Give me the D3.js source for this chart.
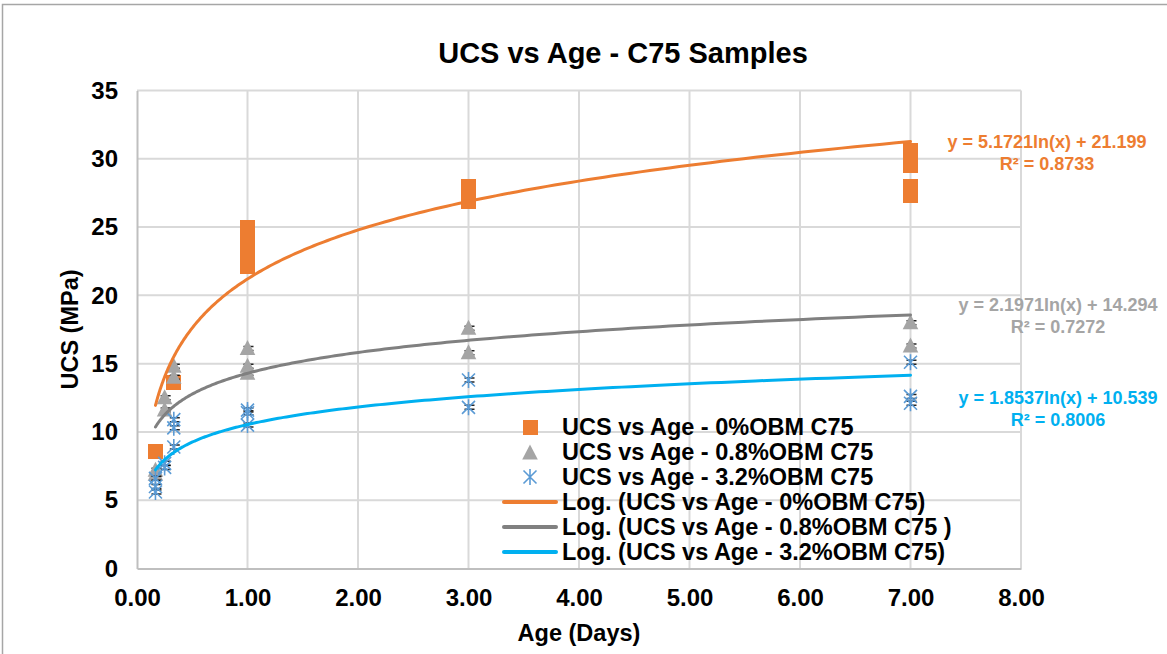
<!DOCTYPE html>
<html>
<head>
<meta charset="utf-8">
<script src="https://cdn.jsdelivr.net/npm/d3@7/dist/d3.min.js"></script>
<style>
  html, body { margin: 0; padding: 0; background: #fff; }
  svg { display: block; font-family: "Liberation Sans", Arial, sans-serif; }
</style>
</head>
<body>
<svg id="chart" width="1167" height="654"></svg>
<script>
// Curing age in days and measured UCS (MPa) for each mix
const obm0Age  = [0.167, 0.333, 1, 1, 1, 1, 3, 3, 7, 7, 7, 7];
const obm0Ucs  = [8.6, 13.6, 25.0, 24.0, 23.0, 22.1, 28.0, 26.9, 30.6, 29.5, 28.0, 27.3];

const obm08Age = [0.167, 0.167, 0.25, 0.25, 0.333, 0.333, 1, 1, 1, 3, 3, 7, 7];
const obm08Ucs = [7.2, 6.9, 12.5, 11.6, 14.8, 14.0, 16.1, 14.8, 14.3, 17.6, 15.8, 18.0, 16.3];

const obm32Age = [0.167, 0.167, 0.167, 0.25, 0.25, 0.333, 0.333, 0.333, 1, 1, 1, 3, 3, 7, 7, 7];
const obm32Ucs = [6.6, 6.0, 5.6, 7.7, 7.4, 10.9, 10.3, 8.9, 11.6, 11.4, 10.5, 13.8, 11.8, 15.1, 12.6, 12.1];

// Logarithmic trendline coefficients: y = slope * ln(x) + intercept
const fitSlope     = [5.1721, 2.1971, 1.8537];
const fitIntercept = [21.199, 14.294, 10.539];
const fitR2        = ["0.8733", "0.7272", "0.8006"];

const seriesNames = ["UCS vs Age - 0%OBM C75", "UCS vs Age - 0.8%OBM C75", "UCS vs Age - 3.2%OBM C75"];
const trendNames  = ["Log. (UCS vs Age - 0%OBM C75)", "Log. (UCS vs Age - 0.8%OBM C75 )", "Log. (UCS vs Age - 3.2%OBM C75)"];

const xTicks = [0, 1, 2, 3, 4, 5, 6, 7, 8];
const yTicks = [0, 5, 10, 15, 20, 25, 30, 35];

const markerColors = ["#ED7D31", "#A5A5A5", "#5B9BD5"];
const lineColors   = ["#ED7D31", "#808080", "#00B0F0"];
const labelColors  = ["#ED7D31", "#A5A5A5", "#00B0F0"];

const svg = d3.select("#chart");
const W = 1167, H = 654;
const plot = { left: 137, right: 1021, top: 90.5, bottom: 568.5 };

const x = d3.scaleLinear().domain([0, 8]).range([plot.left, plot.right]);
const y = d3.scaleLinear().domain([0, 35]).range([plot.bottom, plot.top]);

// chart frame
svg.append("rect")
  .attr("x", 2.5).attr("y", 4.5)
  .attr("width", W + 10).attr("height", H + 10)
  .attr("fill", "#fff").attr("stroke", "#A6A6A6").attr("stroke-width", 1.5);

// title
svg.append("text")
  .attr("x", 623).attr("y", 63)
  .attr("text-anchor", "middle")
  .attr("font-size", 29).attr("font-weight", "bold")
  .attr("fill", "#000")
  .text("UCS vs Age - C75 Samples");

// gridlines
const grid = svg.append("g");
grid.selectAll("line.v").data(xTicks.slice(1)).join("line")
  .attr("x1", d => x(d)).attr("x2", d => x(d))
  .attr("y1", plot.top).attr("y2", plot.bottom)
  .attr("stroke", "#D9D9D9").attr("stroke-width", 2);
grid.selectAll("line.h").data(yTicks.slice(1)).join("line")
  .attr("x1", plot.left).attr("x2", plot.right)
  .attr("y1", d => y(d)).attr("y2", d => y(d))
  .attr("stroke", "#D9D9D9").attr("stroke-width", 2);

// axes
const xAxis = svg.append("g")
  .attr("transform", `translate(0,${plot.bottom})`)
  .call(d3.axisBottom(x).tickValues(xTicks).tickFormat(d3.format(".2f")).tickSize(0).tickPadding(20));
xAxis.select(".domain").attr("stroke", "#BFBFBF").attr("stroke-width", 2);
xAxis.selectAll("text").attr("font-size", 24).attr("font-weight", "bold").attr("fill", "#000")
  .attr("font-family", "Liberation Sans, Arial, sans-serif");

const yAxis = svg.append("g")
  .attr("transform", `translate(${plot.left},0)`)
  .call(d3.axisLeft(y).tickValues(yTicks).tickFormat(d3.format("d")).tickSize(0).tickPadding(19));
yAxis.select(".domain").attr("stroke", "#BFBFBF").attr("stroke-width", 2);
yAxis.selectAll("text").attr("font-size", 24).attr("font-weight", "bold").attr("fill", "#000")
  .attr("font-family", "Liberation Sans, Arial, sans-serif");

// axis titles
svg.append("text")
  .attr("x", 579).attr("y", 641)
  .attr("text-anchor", "middle")
  .attr("font-size", 23.5).attr("font-weight", "bold")
  .text("Age (Days)");
svg.append("text")
  .attr("transform", `translate(78,${(plot.top + plot.bottom) / 2}) rotate(-90)`)
  .attr("text-anchor", "middle")
  .attr("font-size", 23.5).attr("font-weight", "bold")
  .text("UCS (MPa)");

// marker shapes
const squarePath = d3.symbol().type(d3.symbolSquare).size(225)();
const trianglePath = "M0,-8.5L7.8,6.5L-7.8,6.5Z";
const starPath = "M0,-8V8M-6.5,-6.5L6.5,6.5M-6.5,6.5L6.5,-6.5";

function drawSquare(g, cx, cy) {
  g.append("path").attr("d", squarePath)
    .attr("transform", `translate(${cx},${cy})`)
    .attr("shape-rendering", "crispEdges")
    .attr("fill", markerColors[0]);
}
function drawDashes(g, cx, cy) {
  g.append("path")
    .attr("d", `M${cx - 4},${cy - 2}h10M${cx - 4},${cy + 2}h10`)
    .attr("stroke", "#000").attr("stroke-width", 1.5).attr("opacity", 0.85);
}
function drawTriangle(g, cx, cy) {
  g.append("path").attr("d", trianglePath)
    .attr("transform", `translate(${cx},${cy})`)
    .attr("fill", markerColors[1]);
}
function drawStar(g, cx, cy) {
  g.append("path").attr("d", starPath)
    .attr("transform", `translate(${cx},${cy})`)
    .attr("fill", "none").attr("stroke", markerColors[2]).attr("stroke-width", 1.6);
}

// data points
const pts = svg.append("g");
obm0Age.forEach((a, i) => drawSquare(pts, x(a), y(obm0Ucs[i])));
obm08Age.forEach((a, i) => { drawDashes(pts, x(a), y(obm08Ucs[i])); });
obm08Age.forEach((a, i) => drawTriangle(pts, x(a), y(obm08Ucs[i])));
obm32Age.forEach((a, i) => { drawDashes(pts, x(a), y(obm32Ucs[i])); });
obm32Age.forEach((a, i) => drawStar(pts, x(a), y(obm32Ucs[i])));

// logarithmic trendlines across each series' age range
const ageSets = [obm0Age, obm08Age, obm32Age];
const line = d3.line().x(d => x(d[0])).y(d => y(d[1])).curve(d3.curveLinear);
ageSets.forEach((ages, k) => {
  const [lo, hi] = d3.extent(ages);
  const steps = 200;
  const pts2 = d3.range(steps + 1).map(i => {
    const a = lo * Math.pow(hi / lo, i / steps);
    return [a, fitSlope[k] * Math.log(a) + fitIntercept[k]];
  });
  svg.append("path").datum(pts2)
    .attr("d", line)
    .attr("fill", "none")
    .attr("stroke", lineColors[k])
    .attr("stroke-width", 3)
    .attr("stroke-linecap", "round");
});

// trendline equations
const eqPos = [[1047, 148], [1058, 311], [1058, 404]];
fitSlope.forEach((s, k) => {
  const t = svg.append("text")
    .attr("text-anchor", "middle")
    .attr("font-size", 18).attr("font-weight", "bold")
    .attr("fill", labelColors[k]);
  t.append("tspan").attr("x", eqPos[k][0]).attr("y", eqPos[k][1])
    .text(`y = ${s}ln(x) + ${fitIntercept[k]}`);
  t.append("tspan").attr("x", eqPos[k][0]).attr("y", eqPos[k][1] + 22)
    .text(`R² = ${fitR2[k]}`);
});

// legend
const legend = svg.append("g");
const rowY = d3.range(6).map(i => 427 + i * 25);
drawSquare(legend, 530, rowY[0]);
drawTriangle(legend, 530, rowY[1] + 1);
drawStar(legend, 530, rowY[2]);
[0, 1, 2].forEach(k => {
  legend.append("line")
    .attr("x1", 504).attr("x2", 556)
    .attr("y1", rowY[3 + k]).attr("y2", rowY[3 + k])
    .attr("stroke", lineColors[k]).attr("stroke-width", 4)
    .attr("stroke-linecap", "round");
});
const legendLabels = seriesNames.concat(trendNames);
legend.selectAll("text.lg").data(legendLabels).join("text")
  .attr("x", 562)
  .attr("y", (d, i) => rowY[i] + 8)
  .attr("font-size", 23.5).attr("font-weight", "bold")
  .attr("fill", "#000")
  .text(d => d);
</script>
</body>
</html>
